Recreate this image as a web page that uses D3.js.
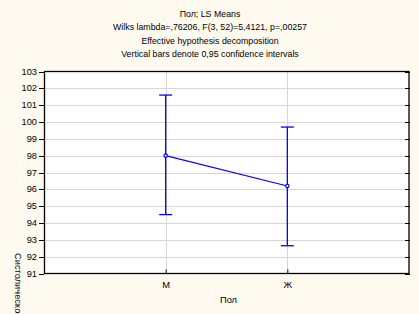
<!DOCTYPE html>
<html>
<head>
<meta charset="utf-8">
<script src="https://cdn.jsdelivr.net/npm/d3@7"></script>
<style>
  body { margin: 0; background: #fffaf0; }
  svg { display: block; font-family: "Liberation Sans", Arial, sans-serif; }
</style>
</head>
<body>
<svg id="chart" width="419" height="314"></svg>
<script>
// data
const titleLines = [
    "Пол; LS Means",
    "Wilks lambda=,76206, F(3, 52)=5,4121, p=,00257",
    "Effective hypothesis decomposition",
    "Vertical bars denote 0,95 confidence intervals"
];
const groups = ["М", "Ж"];
const means = [98.0, 96.2];
const upper = [101.6, 99.7];
const lower = [94.5, 92.65];
const yTicks = [91, 92, 93, 94, 95, 96, 97, 98, 99, 100, 101, 102, 103];
const xTitle = "Пол";
const yTitle = "Систолическое АД";

const W = 419, H = 314;
const plot = { left: 44, right: 409, top: 71.5, bottom: 273.5 };

const svg = d3.select("#chart");

svg.append("rect").attr("width", W).attr("height", H).attr("fill", "#fffaf0");

// titles
svg.selectAll("text.title")
    .data(titleLines)
    .join("text")
    .attr("class", "title")
    .attr("x", 210)
    .attr("y", (d, i) => 16.5 + i * 13.6)
    .attr("text-anchor", "middle")
    .attr("font-size", 8.8)
    .attr("fill", "#000")
    .text(d => d);

const x = d3.scalePoint().domain(groups).range([plot.left, plot.right]).padding(1);
const y = d3.scaleLinear().domain([91, 103]).range([plot.bottom, plot.top]);

svg.append("rect")
    .attr("x", plot.left).attr("y", plot.top)
    .attr("width", plot.right - plot.left).attr("height", plot.bottom - plot.top)
    .attr("fill", "#fff");

// grid
svg.append("g").selectAll("line")
    .data(yTicks.slice(1, -1))
    .join("line")
    .attr("x1", plot.left).attr("x2", plot.right)
    .attr("y1", d => Math.round(y(d)) + 0.5).attr("y2", d => Math.round(y(d)) + 0.5)
    .attr("stroke", "#d6d6d6");
svg.append("g").selectAll("line")
    .data(groups)
    .join("line")
    .attr("x1", d => Math.round(x(d)) + 0.5).attr("x2", d => Math.round(x(d)) + 0.5)
    .attr("y1", plot.top).attr("y2", plot.bottom)
    .attr("stroke", "#d6d6d6");

// left axis
const yAxis = svg.append("g")
    .attr("transform", `translate(${plot.left},0)`)
    .call(d3.axisLeft(y).tickValues(yTicks).tickSize(5).tickPadding(2).tickFormat(d3.format("d")));
yAxis.select(".domain").remove();
yAxis.selectAll("line").attr("stroke", "#000");
yAxis.selectAll("text").attr("font-size", 9.3).attr("font-family", "Liberation Sans, Arial, sans-serif").attr("fill", "#000");
yAxis.selectAll(".tick").attr("transform", d => `translate(0,${Math.round(y(d)) + 0.5})`);

// right ticks
svg.append("g").selectAll("line")
    .data(yTicks)
    .join("line")
    .attr("x1", plot.right - 4).attr("x2", plot.right + 1)
    .attr("y1", d => Math.round(y(d)) + 0.5).attr("y2", d => Math.round(y(d)) + 0.5)
    .attr("stroke", "#000");

// bottom ticks (inward)
const xAxis = svg.append("g")
    .attr("transform", `translate(0,${plot.bottom})`)
    .call(d3.axisBottom(x).tickSize(-4).tickPadding(8));
xAxis.select(".domain").remove();
xAxis.selectAll("line").attr("stroke", "#000");
xAxis.selectAll("text").attr("font-size", 9.3).attr("font-family", "Liberation Sans, Arial, sans-serif").attr("fill", "#000");

// frame
svg.append("rect")
    .attr("x", plot.left + 0.5).attr("y", plot.top)
    .attr("width", plot.right - plot.left - 0.5).attr("height", plot.bottom - plot.top)
    .attr("fill", "none").attr("stroke", "#000").attr("stroke-width", 1.3);

// axis titles
svg.append("text")
    .attr("x", (plot.left + plot.right) / 2 + 2)
    .attr("y", 303)
    .attr("text-anchor", "middle")
    .attr("font-size", 9.3)
    .text(xTitle);

svg.append("text")
    .attr("transform", "translate(15,253) rotate(90)")
    .attr("font-size", 9.3)
    .text(yTitle);

// error bars
const rows = groups.map((g, i) => ({ g, m: means[i], hi: upper[i], lo: lower[i] }));
const bars = svg.append("g").attr("stroke", "#0000ff").attr("stroke-width", 1.3).attr("fill", "none");
bars.selectAll("line.v").data(rows).join("line").attr("class", "v")
    .attr("x1", d => x(d.g)).attr("x2", d => x(d.g))
    .attr("y1", d => y(d.hi)).attr("y2", d => y(d.lo));
bars.selectAll("line.hi").data(rows).join("line").attr("class", "hi")
    .attr("x1", d => x(d.g) - 6.5).attr("x2", d => x(d.g) + 6.5)
    .attr("y1", d => y(d.hi)).attr("y2", d => y(d.hi));
bars.selectAll("line.lo").data(rows).join("line").attr("class", "lo")
    .attr("x1", d => x(d.g) - 6.5).attr("x2", d => x(d.g) + 6.5)
    .attr("y1", d => y(d.lo)).attr("y2", d => y(d.lo));

// mean line
svg.append("path")
    .datum(rows)
    .attr("d", d3.line().x(d => x(d.g)).y(d => y(d.m)))
    .attr("fill", "none").attr("stroke", "#0000ff").attr("stroke-width", 1.2);

svg.append("g").selectAll("circle")
    .data(rows)
    .join("circle")
    .attr("cx", d => x(d.g)).attr("cy", d => y(d.m))
    .attr("r", 1.7)
    .attr("fill", "#fff").attr("stroke", "#0000ff").attr("stroke-width", 1.2);
</script>
</body>
</html>
